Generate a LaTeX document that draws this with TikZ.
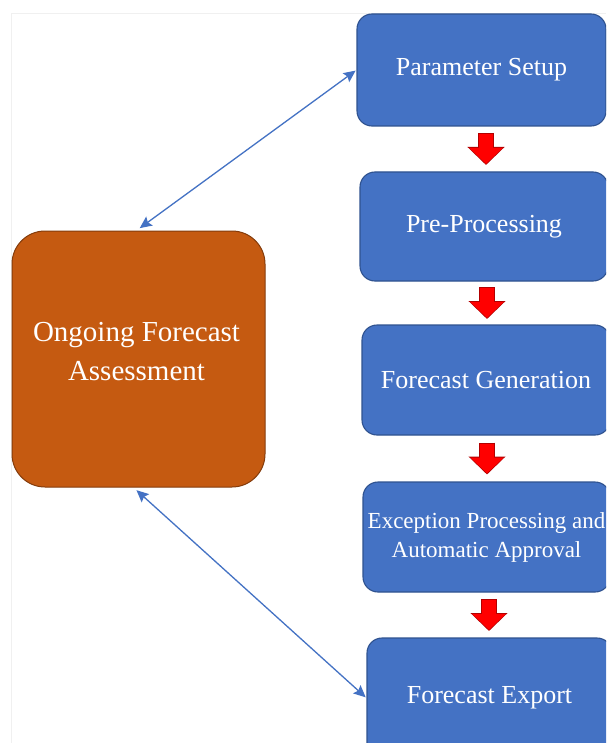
\documentclass[tikz,border=0pt]{standalone}
\usepackage{fontspec}
\setmainfont{Liberation Serif}
\usetikzlibrary{arrows.meta,calc}
\definecolor{boxblue}{HTML}{4472C4}
\definecolor{boxblueedge}{HTML}{2F528F}
\definecolor{boxorange}{HTML}{C55A11}
\definecolor{boxorangeedge}{HTML}{843C0C}
\definecolor{linkblue}{HTML}{4472C4}
\definecolor{framegray}{HTML}{F0F0F0}
\tikzset{
  bluebox/.style={rectangle, rounded corners=15pt, fill=boxblue, draw=boxblueedge,
    line width=1.1pt, text=white, align=center, inner sep=1pt,
    font=\fontsize{26}{31}\selectfont},
  orangebox/.style={rectangle, rounded corners=33pt, fill=boxorange, draw=boxorangeedge,
    line width=1pt},
  orangetext/.style={text=white, align=center, inner sep=0pt,
    font=\fontsize{29}{39}\selectfont},
  redarrowout/.style={draw=red!70!black, line width=16.5pt,
    -{Triangle[length=18pt,width=36pt]}},
  redarrowin/.style={draw=red, line width=14pt,
    -{Triangle[length=15.8pt,width=32.5pt]}, shorten >=1.2pt, shorten <=1.2pt},
  link/.style={draw=linkblue, line width=1.3pt,
    {Stealth[length=12pt,width=11pt,inset=2pt]}-{Stealth[length=12pt,width=11pt,inset=2pt]}},
}
\begin{document}
\begin{tikzpicture}[x=1pt,y=-1pt]
\useasboundingbox (0,0) rectangle (606,743);
\fill[white] (0,0) rectangle (606,743);
\begin{scope}
\clip (0,0) rectangle (606,743);
\draw[framegray, line width=1pt] (11,743) -- (11,14) -- (606,14);

\node[bluebox, minimum width=249pt, minimum height=112pt] (param) at (481.5,70) {Parameter Setup};
\node[bluebox, minimum width=248pt, minimum height=109pt] (pre) at (484,226.5) {Pre-Processing};
\node[bluebox, minimum width=248pt, minimum height=110pt] (gen) at (486,380) {Forecast Generation};
\node[bluebox, minimum width=247pt, minimum height=110pt,
  font=\fontsize{23}{29}\selectfont] (exc) at (486.5,537) {Exception Processing and\\Automatic Approval};
\node[bluebox, minimum width=245pt, minimum height=120pt] (exp) at (489.5,698) {Forecast Export};

\node[orangebox, minimum width=253pt, minimum height=256pt] (ofa) at (138.5,359) {};
\node[orangetext] (ofatext) at ([xshift=-2pt, yshift=7pt]ofa.center) {Ongoing Forecast\\Assessment};

\coordinate (ax) at (487,0);
\path ($(param.south)!.5!(pre.north)$) coordinate (m1);
\path ($(pre.south)!.5!(gen.north)$) coordinate (m2);
\path ($(gen.south)!.5!(exc.north)$) coordinate (m3);
\path ($(exc.south)!.5!(exp.north)$) coordinate (m4);
\foreach \m/\dx in {m1/-1,m2/0,m3/0,m4/2}{
  \draw[redarrowout] ([xshift=\dx pt, yshift=16pt]\m -| ax) -- ([xshift=\dx pt, yshift=-16pt]\m -| ax);
  \draw[redarrowin] ([xshift=\dx pt, yshift=16pt]\m -| ax) -- ([xshift=\dx pt, yshift=-16pt]\m -| ax);
}

\draw[link, shorten <=4pt, shorten >=1pt] ([xshift=-2pt]ofa.north) -- (param.west);
\draw[link, shorten <=4pt, shorten >=1pt] ([xshift=-5pt]ofa.south) -- (exp.west);
\end{scope}
\end{tikzpicture}
\end{document}
